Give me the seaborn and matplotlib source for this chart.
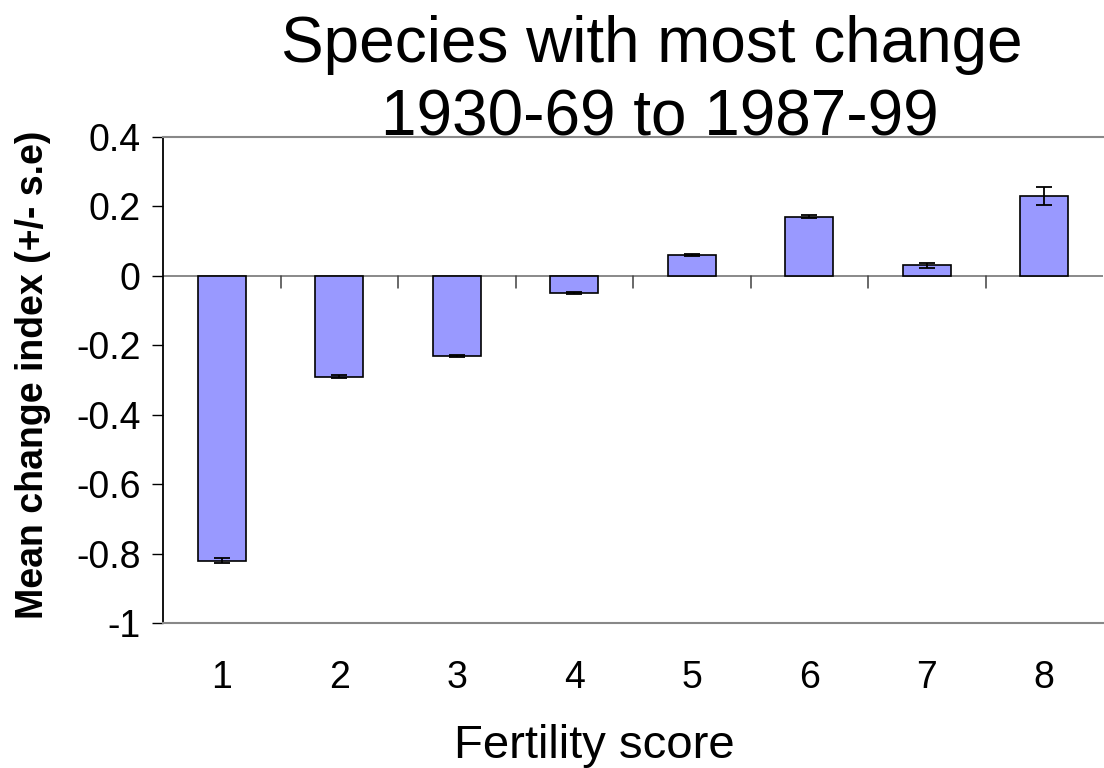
import matplotlib
matplotlib.use("Agg")
import matplotlib.pyplot as plt
import seaborn as sns
import pandas as pd
import numpy as np

categories = ["1", "2", "3", "4", "5", "6", "7", "8"]
mean_change = [-0.82, -0.29, -0.23, -0.05, 0.06, 0.17, 0.03, 0.23]
std_err = [0.007, 0.003, 0.003, 0.003, 0.004, 0.004, 0.006, 0.026]
yticks = [0.4, 0.2, 0, -0.2, -0.4, -0.6, -0.8, -1]
ytick_labels = ["0.4", "0.2", "0", "-0.2", "-0.4", "-0.6", "-0.8", "-1"]
title_lines = ["Species with most change", "1930-69 to 1987-99"]

sns.set_theme(style="white")
plt.rcParams["font.family"] = ["Liberation Sans", "DejaVu Sans"]
plt.rcParams["text.color"] = "black"
plt.rcParams["axes.labelcolor"] = "black"
plt.rcParams["xtick.color"] = "black"
plt.rcParams["ytick.color"] = "black"

df = pd.DataFrame({"Fertility score": categories, "Mean": mean_change, "SE": std_err})

W, H = 1104, 768
fig = plt.figure(figsize=(W / 100, H / 100), dpi=100)
ax = fig.add_axes([163 / W, (H - 623) / H, (1103 - 163) / W, (623 - 137) / H])

sns.barplot(data=df, x="Fertility score", y="Mean", color="#9999FF", saturation=1,
            edgecolor="black", linewidth=1.2, width=0.41, errorbar=None, ax=ax)
ax.errorbar(np.arange(len(categories)), mean_change, yerr=std_err, fmt="none",
            ecolor="black", elinewidth=1.3, capsize=6, capthick=1.3, zorder=5)

ax.set_xlim(-0.5, len(categories) - 0.5)
ax.set_ylim(-1, 0.4)
ax.set_yticks(yticks)
ax.set_yticklabels(ytick_labels, fontsize=27)
ax.tick_params(axis="y", direction="out", length=8, width=1, color="black", pad=8, left=True)
ax.tick_params(axis="x", length=0, pad=27, labelsize=27)

# zero line with category-boundary tick marks
ax.axhline(0, color="#808080", lw=1.3, zorder=0.5)
for b in np.arange(0.5, len(categories) - 0.5, 1.0):
    ax.plot([b, b], [0, -0.035], color="#404040", lw=1.1, zorder=0.5)

for side in ["top", "bottom", "right"]:
    ax.spines[side].set_color("#888888")
    ax.spines[side].set_linewidth(1.5)
ax.spines["right"].set_visible(False)
ax.spines["left"].set_color("black")
ax.spines["left"].set_linewidth(1.3)

ax.set_xlabel("Fertility score", fontsize=34)
ax.xaxis.set_label_coords((594 - 163) / 940, -(758 - 623) / 486)
ax.xaxis.label.set_verticalalignment("baseline")
ax.set_ylabel("Mean change index (+/- s.e)", fontsize=27, fontweight="bold")
ax.yaxis.set_label_coords(-(163 - 15) / 940, 0.51)
ax.yaxis.label.set_verticalalignment("top")

fig.text(652 / W, (H - 62) / H, title_lines[0], ha="center", va="baseline", fontsize=46)
fig.text(660 / W, (H - 135) / H, title_lines[1], ha="center", va="baseline", fontsize=46)

fig.savefig("out.png", dpi=100)
